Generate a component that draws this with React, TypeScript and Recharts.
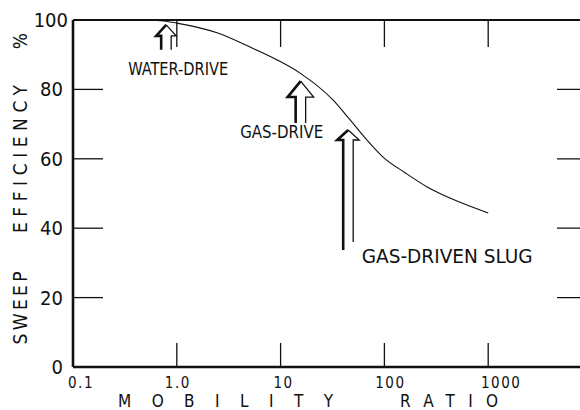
import React from 'react';
import { LineChart, Line, XAxis, YAxis, ReferenceDot, ReferenceLine } from 'recharts';

// Curve: sweep efficiency (%) vs mobility ratio
const mobilityRatio = [0.44, 0.7, 1, 2.44, 5.08, 9.25, 15.4, 32.1, 46.8, 65.2, 97, 158, 258, 428, 1000];
const sweepEfficiency = [100, 99.8, 99.1, 96.3, 92.2, 88.5, 84.7, 76.9, 71.2, 66.0, 60.5, 56.0, 51.9, 48.7, 44.4];

// Axis ticks
const xTicks = [0.1, 1, 10, 100, 1000];
const xTickLabels = ['0.1', '1.0', '10', '100', '1000'];
const yTicks = [0, 20, 40, 60, 80, 100];
const topTicks = [1, 10, 100, 1000];
const rightTicks = [20, 40, 60, 80];
const xDomain = [0.1, 10000];

// Annotated arrows
const arrowLabels = ['WATER-DRIVE', 'GAS-DRIVE', 'GAS-DRIVEN SLUG'];
const arrowMobility = [0.79, 15.6, 44.8];
const arrowEfficiency = [98.6, 82.4, 68.3];

const FONT = "'Liberation Sans Narrow', 'DejaVu Sans Condensed', 'DejaVu Sans', sans-serif";
const INK = '#111';

const data = mobilityRatio.map((m, i) => ({ m, e: sweepEfficiency[i] }));

const arrowStyle = [
  { hw: 10, hh: 11, sw: 5, len: 25, dx: 12, dy: 50, tl: 100, fs: 17 },
  { hw: 13, hh: 16, sw: 5, len: 42, dx: -19, dy: 57, tl: 83, fs: 17 },
  { hw: 11, hh: 10, sw: 5, len: 120, dx: 99, dy: 133, tl: 171, fs: 20 },
];

const xLabelDx = [8, 1, 3, 6, 13];

const YTick = (props: any) => {
  const { x, y, payload } = props;
  const v = payload.value;
  return (
    <g>
      {v > 0 && v < 100 && (
        <line x1={x} x2={x + 30} y1={y} y2={y} stroke={INK} strokeWidth={1.3} />
      )}
      <text
        x={v === 100 ? x - 5 : x - 10}
        y={y}
        dy={7}
        textAnchor="end"
        fontFamily={FONT}
        fontSize={20}
        fill={INK}
      >
        {v}
      </text>
    </g>
  );
};

const XTick = (props: any) => {
  const { x, y, payload, index } = props;
  const v = payload.value;
  const i = xTicks.indexOf(v);
  return (
    <g>
      {v > 0.1 && <line x1={x} x2={x} y1={y} y2={y - 24} stroke={INK} strokeWidth={1.3} />}
      <text
        x={x + xLabelDx[i >= 0 ? i : index]}
        y={y + 21}
        textAnchor="middle"
        fontFamily={FONT}
        fontSize={15}
        letterSpacing={1.5}
        fill={INK}
      >
        {xTickLabels[i >= 0 ? i : index]}
      </text>
    </g>
  );
};

const makeArrow = (k: number) => (p: any) => {
  const { cx, cy } = p;
  const s = arrowStyle[k];
  const base = cy + s.hh;
  const bottom = cy + s.len;
  return (
    <g>
      <path
        d={`M${cx - s.sw},${bottom} L${cx - s.sw},${base} L${cx - s.hw},${base} L${cx},${cy}`}
        fill="none"
        stroke={INK}
        strokeWidth={2.6}
        strokeLinejoin="miter"
      />
      <path
        d={`M${cx},${cy} L${cx + s.hw},${base} L${cx + s.sw},${base} L${cx + s.sw},${bottom - (k === 2 ? 8 : 0)}`}
        fill="none"
        stroke={INK}
        strokeWidth={1.3}
      />
      <text
        x={cx + s.dx}
        y={cy + s.dy}
        textAnchor="middle"
        textLength={s.tl}
        lengthAdjust="spacingAndGlyphs"
        fontFamily={FONT}
        fontSize={s.fs}
        fill={INK}
      >
        {arrowLabels[k]}
      </text>
    </g>
  );
};

const TopTick = (p: any) => (
  <line x1={p.cx} x2={p.cx} y1={p.cy} y2={p.cy + 27} stroke={INK} strokeWidth={1.3} />
);
const RightTick = (p: any) => (
  <line x1={p.cx - 35} x2={p.cx} y1={p.cy} y2={p.cy} stroke={INK} strokeWidth={1.3} />
);

export default function App() {
  return (
    <div
      style={{
        position: 'fixed',
        left: 0,
        top: 0,
        width: 580,
        height: 410,
        overflow: 'hidden',
        background: '#fff',
      }}
    >
      <LineChart
        width={620}
        height={410}
        data={data}
        margin={{ top: 20, right: 28, bottom: 0, left: 0 }}
      >
        <XAxis
          dataKey="m"
          type="number"
          scale="log"
          domain={xDomain}
          ticks={xTicks}
          allowDataOverflow
          height={43}
          tickSize={0}
          tickMargin={0}
          tickLine={false}
          axisLine={{ stroke: INK, strokeWidth: 2.6 }}
          tick={<XTick />}
          interval={0}
        />
        <YAxis
          type="number"
          domain={[0, 100]}
          ticks={yTicks}
          width={73}
          tickSize={0}
          tickMargin={0}
          tickLine={false}
          axisLine={{ stroke: INK, strokeWidth: 2.6 }}
          tick={<YTick />}
          interval={0}
        />
        <ReferenceLine y={100} stroke={INK} strokeWidth={2.2} />
        {topTicks.map((v) => (
          <ReferenceDot key={`t${v}`} x={v} y={100} shape={TopTick} />
        ))}
        {rightTicks.map((v) => (
          <ReferenceDot key={`r${v}`} x={xDomain[1]} y={v} shape={RightTick} />
        ))}
        <Line
          type="monotone"
          dataKey="e"
          stroke={INK}
          strokeWidth={1.1}
          dot={false}
          isAnimationActive={false}
        />
        {arrowLabels.map((_, k) => (
          <ReferenceDot
            key={`a${k}`}
            x={arrowMobility[k]}
            y={arrowEfficiency[k]}
            shape={makeArrow(k)}
          />
        ))}
      </LineChart>
      <svg
        width={580}
        height={410}
        style={{ position: 'absolute', left: 0, top: 0, pointerEvents: 'none' }}
      >
        <g fontFamily={FONT} fontSize={19} fill={INK}>
          <text
            transform="translate(27,308) rotate(-90)"
            textAnchor="middle"
            textLength={73}
            lengthAdjust="spacing"
          >
            SWEEP
          </text>
          <text
            transform="translate(27,159) rotate(-90)"
            textAnchor="middle"
            textLength={148}
            lengthAdjust="spacing"
          >
            EFFICIENCY
          </text>
          <text transform="translate(27,41) rotate(-90)" textAnchor="middle">
            %
          </text>
        </g>
        <g fontFamily={FONT} fontSize={17} fill={INK}>
          <text x={118} y={407} textLength={215} lengthAdjust="spacing">
            MOBILITY
          </text>
          <text x={400} y={407} textLength={98} lengthAdjust="spacing">
            RATIO
          </text>
        </g>
      </svg>
    </div>
  );
}
